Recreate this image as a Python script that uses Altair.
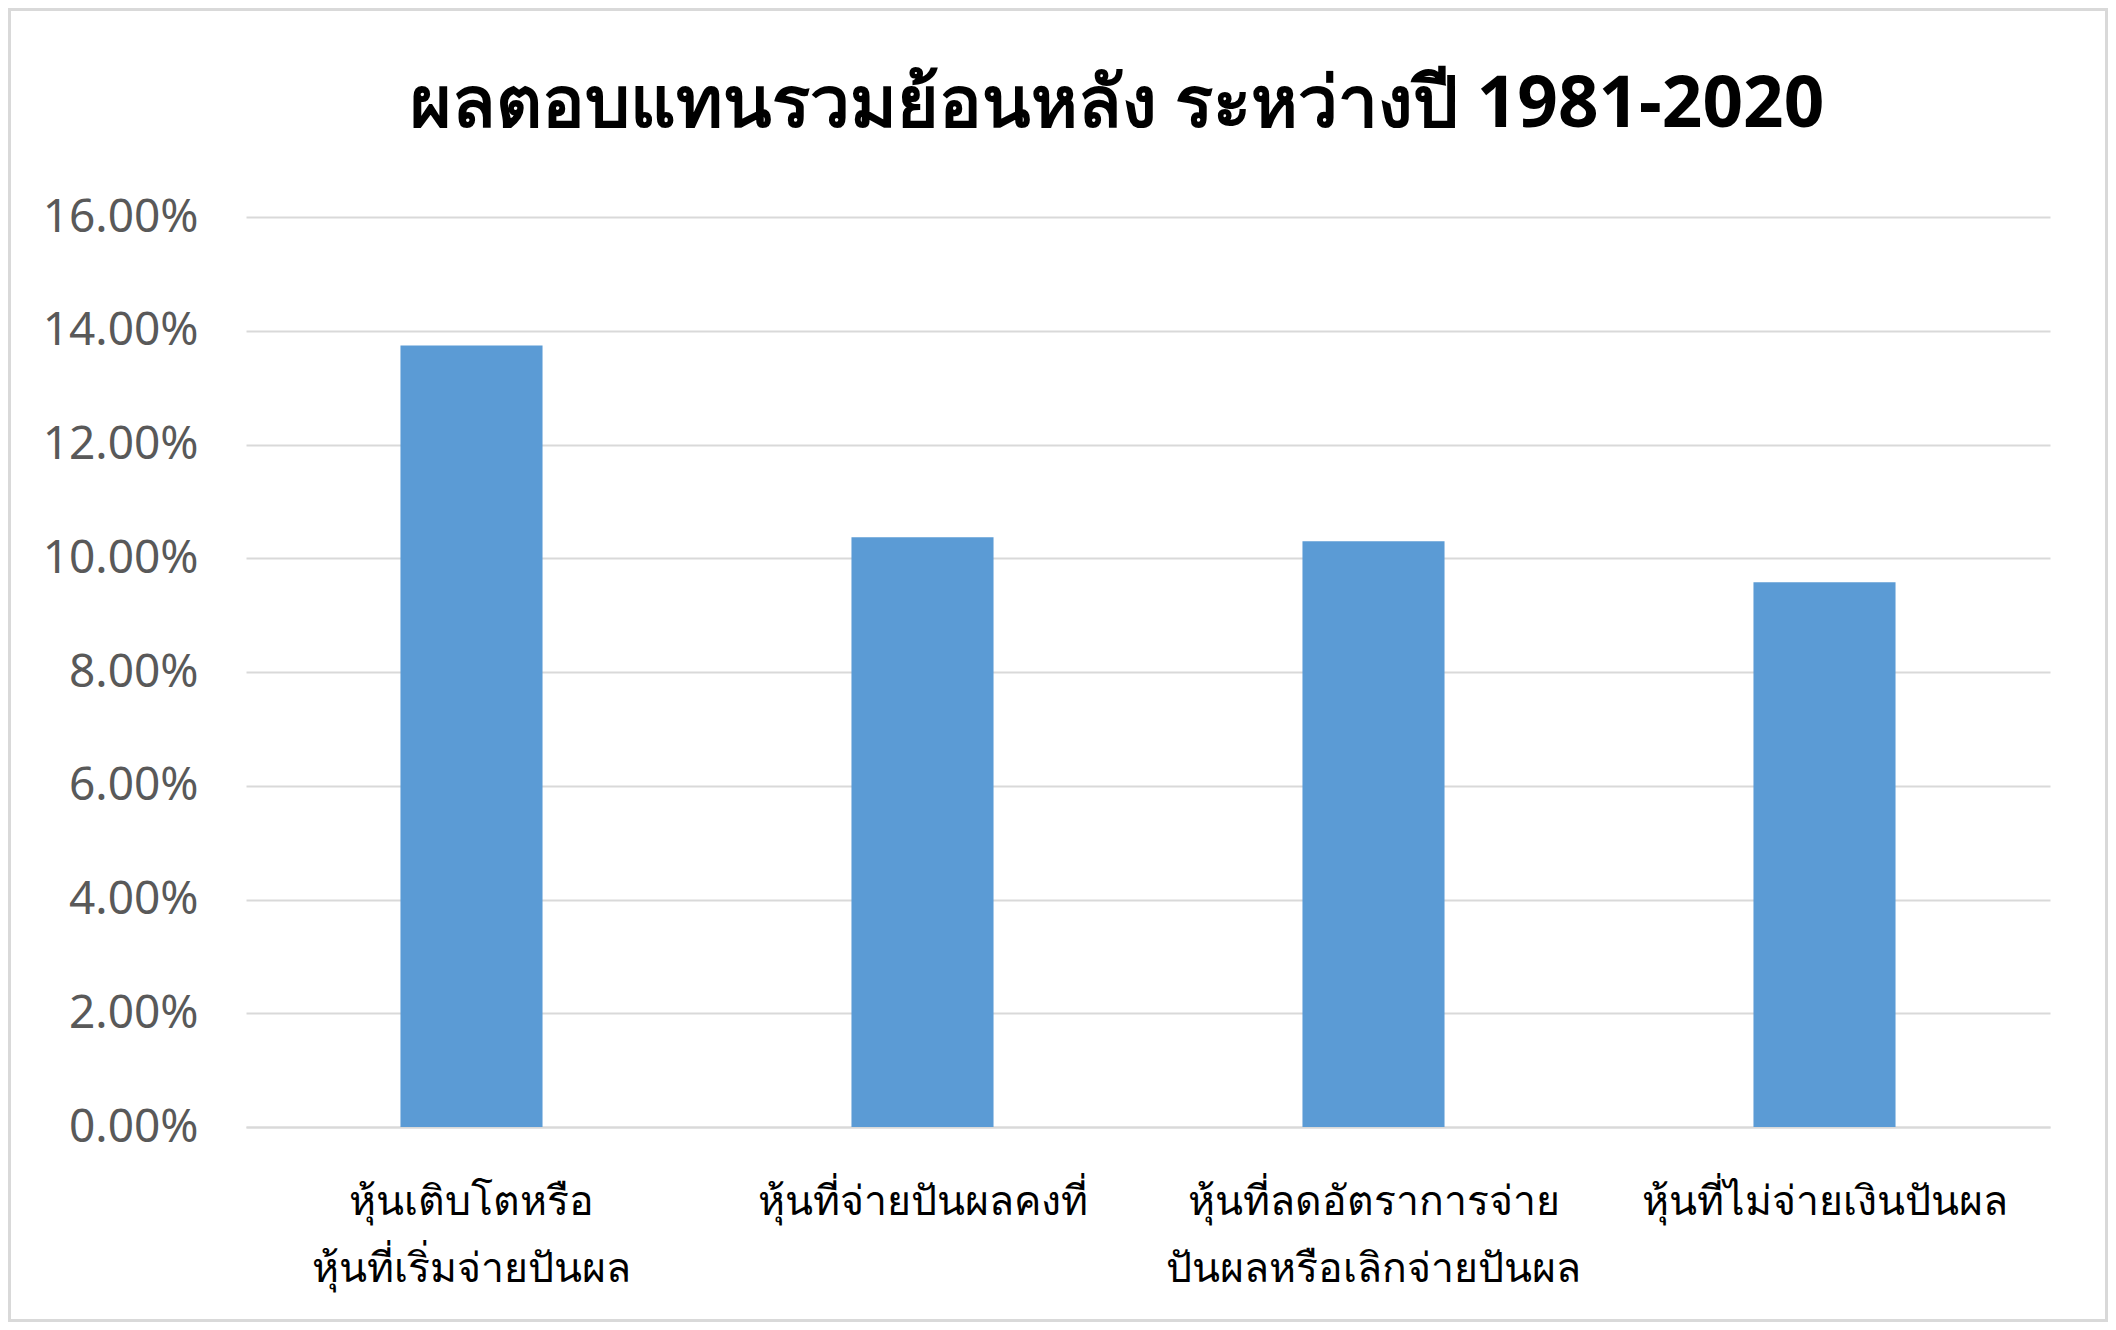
import altair as alt
import pandas as pd

title_text = "ผลตอบแทนรวมย้อนหลัง ระหว่างปี 1981-2020"
categories = [
    "หุ้นเติบโตหรือ\nหุ้นที่เริ่มจ่ายปันผล",
    "หุ้นที่จ่ายปันผลคงที่",
    "หุ้นที่ลดอัตราการจ่าย\nปันผลหรือเลิกจ่ายปันผล",
    "หุ้นที่ไม่จ่ายเงินปันผล",
]
values = [0.1374, 0.1037, 0.1030, 0.0958]
y_ticks = [0, 0.02, 0.04, 0.06, 0.08, 0.10, 0.12, 0.14, 0.16]

df = pd.DataFrame({"cat": categories, "val": values})

W, H = 1804, 910
PL, PT, PR, PB = 238, 209, 58, 195

bars = alt.Chart(df).mark_bar(color="#5B9BD5").encode(
    x=alt.X(
        "cat:N",
        sort=categories,
        title=None,
        scale=alt.Scale(paddingInner=0.685, paddingOuter=0.3425),
        axis=alt.Axis(
            labelExpr="split(datum.label, '\\n')",
            labelAngle=0,
            labelFont="Noto Sans",
            labelFontSize=41,
            labelLineHeight=67,
            labelLimit=0,
            labelColor="#000000",
            labelPadding=55,
            ticks=False,
            domain=True,
            domainColor="#d9d9d9",
            domainWidth=2,
            grid=False,
        ),
    ),
    y=alt.Y(
        "val:Q",
        title=None,
        scale=alt.Scale(domain=[0, 0.16], nice=False),
        axis=alt.Axis(
            values=y_ticks,
            format=".2%",
            labelFont="Noto Sans",
            labelFontSize=46,
            labelColor="#595959",
            labelPadding=48,
            ticks=False,
            domain=False,
            grid=True,
            gridColor="#d9d9d9",
            gridWidth=2,
        ),
    ),
)

border = alt.Chart(pd.DataFrame({"a": [0]})).mark_rect(
    fill=None, stroke="#d9d9d9", strokeWidth=3
).encode(
    x=alt.value(-PL + 1.5),
    x2=alt.value(W + PR - 1.5),
    y=alt.value(-PT + 1.5),
    y2=alt.value(H + PB - 1.5),
)

chart = alt.layer(bars, border).properties(
    width=W,
    height=H,
    background="white",
    padding={"left": PL, "top": PT, "right": PR, "bottom": PB},
    autosize=alt.AutoSizeParams(type="none"),
    title=alt.TitleParams(
        text=title_text,
        font="Noto Sans",
        fontSize=71,
        fontWeight="bold",
        color="#000000",
        anchor="middle",
        frame="group",
        baseline="alphabetic",
        dx=-31,
        dy=190,
        offset=0,
    ),
).configure_view(strokeWidth=0, stroke="transparent")

chart.save("out.html", embed_options={"renderer": "svg", "actions": False})
